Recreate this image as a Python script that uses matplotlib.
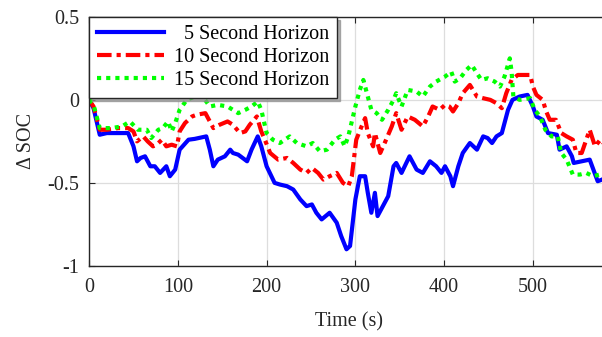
import matplotlib
matplotlib.use("Agg")
import matplotlib.pyplot as plt

# 5 second horizon (blue)
t5 = [0, 5, 12, 20, 30, 44, 50, 54, 58, 63, 69, 74, 80, 87, 91, 97, 102, 112,
      119, 132, 136, 140, 145, 153, 159, 162, 168, 178, 183, 190, 194, 200, 209, 215,
      223, 230, 238, 245, 251, 256, 262, 271, 279, 284, 290, 294, 300, 305, 311, 314,
      318, 322, 325, 331, 337, 343, 346, 352, 361, 369, 376, 384, 391, 397, 401, 407,
      410, 416, 421, 429, 437, 444, 449, 454, 459, 465, 468, 472, 477, 485, 494, 500,
      504, 511, 517, 527, 530, 538, 544, 546, 564, 573, 578, 585]
soc5 = [0, -0.05, -0.21, -0.20, -0.20, -0.20, -0.28, -0.37, -0.35, -0.34, -0.40, -0.40,
        -0.44, -0.40, -0.46, -0.42, -0.30, -0.24, -0.235, -0.22, -0.30, -0.40, -0.36, -0.34,
        -0.30, -0.32, -0.33, -0.37, -0.30, -0.22, -0.28, -0.40, -0.50, -0.51, -0.52, -0.54,
        -0.60, -0.64, -0.63, -0.68, -0.72, -0.68, -0.74, -0.82, -0.90, -0.88, -0.60, -0.46,
        -0.46, -0.56, -0.68, -0.56, -0.70, -0.64, -0.58, -0.40, -0.38, -0.44, -0.34, -0.42,
        -0.44, -0.37, -0.40, -0.44, -0.40, -0.46, -0.52, -0.40, -0.32, -0.26, -0.30, -0.22,
        -0.23, -0.26, -0.22, -0.20, -0.14, -0.06, 0.0, 0.02, 0.03, -0.04, -0.10, -0.12,
        -0.20, -0.21, -0.30, -0.28, -0.34, -0.38, -0.36, -0.49, -0.48, -0.46]

# 10 second horizon (red)
t10 = [0, 5, 12, 20, 33, 44, 50, 54, 61, 66, 72, 76, 82, 87, 93, 99, 102, 108,
       116, 121, 131, 135, 140, 147, 156, 162, 170, 176, 181, 189, 194, 198, 204, 213,
       223, 230, 238, 245, 251, 258, 264, 271, 279, 286, 292, 296, 301, 307, 311, 314,
       320, 322, 328, 333, 341, 346, 352, 359, 367, 376, 382, 387, 395, 401, 406, 410,
       416, 421, 429, 437, 444, 452, 459, 465, 470, 476, 483, 497, 500, 504, 511, 515,
       519, 526, 532, 538, 545, 549, 555, 564, 570, 576, 585]
soc10 = [0, -0.04, -0.18, -0.18, -0.17, -0.17, -0.19, -0.25, -0.22, -0.25, -0.28, -0.27,
         -0.24, -0.28, -0.27, -0.28, -0.19, -0.14, -0.10, -0.09, -0.08, -0.12, -0.17, -0.15,
         -0.13, -0.15, -0.20, -0.19, -0.15, -0.10, -0.19, -0.24, -0.32, -0.36, -0.35, -0.38,
         -0.42, -0.44, -0.41, -0.44, -0.48, -0.46, -0.44, -0.50, -0.52, -0.46, -0.24, -0.16,
         -0.11, -0.20, -0.28, -0.20, -0.32, -0.26, -0.16, -0.08, -0.18, -0.10, -0.12, -0.16,
         -0.10, -0.04, -0.06, -0.03, -0.04, -0.07, -0.02, 0.04, 0.09, 0.02, 0.01, 0.0,
         -0.02, -0.05, 0.04, 0.12, 0.15, 0.15, 0.08, 0.03, 0.0, -0.07, -0.12, -0.12,
         -0.20, -0.22, -0.24, -0.32, -0.32, -0.18, -0.28, -0.24, -0.30]

# 15 second horizon (green)
t15 = [0, 5, 12, 25, 37, 46, 55, 65, 70, 78, 83, 89, 93, 97, 102, 110, 119, 128,
       136, 145, 156, 168, 176, 183, 190, 194, 200, 207, 215, 226, 234, 245, 252, 260,
       268, 277, 283, 288, 292, 300, 305, 309, 313, 318, 324, 330, 337, 343, 346, 352,
       359, 369, 376, 384, 391, 401, 408, 412, 418, 425, 431, 437, 442, 449, 457, 463,
       468, 474, 476, 478, 485, 497, 502, 508, 514, 521, 528, 532, 538, 545, 553, 560,
       568, 575, 585]
soc15 = [0, -0.03, -0.17, -0.17, -0.16, -0.13, -0.18, -0.18, -0.23, -0.18, -0.17, -0.13,
         -0.19, -0.14, -0.06, 0.0, 0.02, 0.02, -0.04, -0.03, -0.04, -0.08, -0.06, -0.04,
         -0.01, -0.06, -0.20, -0.24, -0.26, -0.22, -0.26, -0.28, -0.26, -0.31, -0.30, -0.24,
         -0.22, -0.28, -0.22, -0.04, 0.06, 0.12, 0.04, -0.06, -0.08, -0.12, -0.06, 0.0,
         0.04, -0.04, 0.06, 0.05, 0.02, 0.08, 0.11, 0.14, 0.17, 0.11, 0.13, 0.18,
         0.21, 0.16, 0.12, 0.13, 0.11, 0.08, 0.14, 0.25, 0.17, 0.02, 0.0, 0.01,
         -0.06, -0.10, -0.18, -0.22, -0.22, -0.32, -0.36, -0.45, -0.45, -0.44, -0.46, -0.45,
         -0.47]

labels = ["  5 Second Horizon", "10 Second Horizon", "15 Second Horizon"]
xticks = [0, 100, 200, 300, 400, 500]
yticks = [-1, -0.5, 0, 0.5]

plt.rcParams["font.family"] = ["Liberation Serif", "DejaVu Serif"]
plt.rcParams["font.size"] = 14.5

fig = plt.figure(figsize=(6.02, 3.37), dpi=100)
ax = fig.add_axes([0.148, 0.211, 0.864, 0.739])

ax.plot(t5, soc5, color="#0000ff", lw=3.0, label=labels[0])
ax.plot(t10, soc10, color="#ff0000", lw=3.0, dashes=(3.5, 1.2, 1, 1.2), label=labels[1])
ax.plot(t15, soc15, color="#00ff00", lw=3.0, linestyle=(0, (1, 1.2)), label=labels[2])

ax.set_xlim(0, 586)
ax.set_ylim(-1, 0.5)
ax.set_xticks(xticks)
ax.set_yticks(yticks)
ax.set_yticklabels(["-1", "-0.5", "0", "0.5"])
ax.grid(True, color="#dddddd", lw=0.9)
ax.set_axisbelow(True)
ax.tick_params(direction="in", top=True, right=True, length=4, colors="#262626",
               labelsize=14.5)
ax.tick_params(axis="x", pad=8.5)
ax.tick_params(axis="y", pad=7)
for s in ax.spines.values():
    s.set_color("#262626")
    s.set_linewidth(1.0)

ax.set_xlabel("Time (s)", color="#262626", labelpad=11)
ax.set_ylabel("Δ SOC", color="#262626", labelpad=8)

leg = ax.legend(loc="upper left", borderaxespad=0, handlelength=3.3,
                labelspacing=0.2, fancybox=False, framealpha=1,
                edgecolor="#262626", borderpad=0.4, handletextpad=0.5,
                shadow={"color": "0.55", "alpha": 0.7})
leg.get_frame().set_linewidth(1.0)

fig.savefig("out.png", dpi=100)
